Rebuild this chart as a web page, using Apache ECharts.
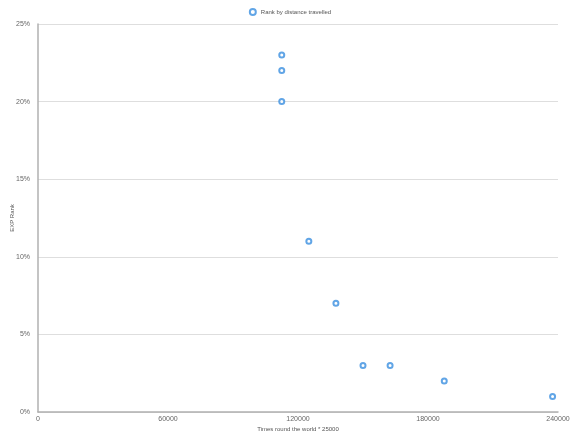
<!DOCTYPE html>
<html>
<head>
<meta charset="utf-8">
<script src="https://cdn.jsdelivr.net/npm/echarts@6/dist/echarts.min.js"></script>
<style>html,body{margin:0;padding:0;background:#fff}#c{width:580px;height:435px}</style>
</head>
<body>
<div id="c"></div>
<script>
var seriesName = 'Rank by distance travelled';
var xValues = [112500, 112500, 112500, 125000, 137500, 150000, 162500, 187500, 237500];
var yValues = [23, 22, 20, 11, 7, 3, 3, 2, 1];
var xTicks = [0, 60000, 120000, 180000, 240000];
var yTicks = [0, 5, 10, 15, 20, 25];

var points = xValues.map(function (x, i) { return [x, yValues[i]]; });
var chart = echarts.init(document.getElementById('c'));
chart.setOption({
  animation: false,
  backgroundColor: '#fff',
  textStyle: { fontFamily: 'Liberation Sans, Arial, sans-serif' },
  legend: {
    top: 3, left: 'center',
    itemWidth: 6, itemHeight: 6, itemGap: 6,
    textStyle: { fontSize: 6, color: '#555' },
    data: [{ name: seriesName, icon: 'emptyCircle' }]
  },
  grid: { left: 38, right: 22, top: 24, bottom: 23, containLabel: false, outerBoundsMode: 'none' },
  xAxis: {
    type: 'value', min: xTicks[0], max: xTicks[xTicks.length - 1], interval: 60000,
    name: 'Times round the world * 25000', nameLocation: 'middle', nameGap: 14, nameMoveOverlap: false,
    nameTextStyle: { fontSize: 6, color: '#555' },
    axisLine: { show: true, lineStyle: { color: '#b0b0b0', width: 1.5 } },
    axisTick: { show: false },
    splitLine: { show: false },
    axisLabel: { fontSize: 7, color: '#666', margin: 4, formatter: function (v) { return String(v); } }
  },
  yAxis: {
    type: 'value', min: yTicks[0], max: yTicks[yTicks.length - 1], interval: 5,
    name: 'EXP Rank', nameLocation: 'middle', nameGap: 23, nameRotate: 90, nameMoveOverlap: false,
    nameTextStyle: { fontSize: 6, color: '#555' },
    axisLine: { show: true, lineStyle: { color: '#b0b0b0', width: 1.5 } },
    axisTick: { show: false },
    splitLine: { show: true, lineStyle: { color: '#dedede', width: 1 } },
    axisLabel: { fontSize: 7, color: '#666', margin: 8, formatter: '{value}%' }
  },
  series: [{
    name: seriesName,
    type: 'scatter',
    symbol: 'emptyCircle',
    symbolSize: 5,
    itemStyle: { color: '#3a8ee0', borderColor: '#3a8ee0', borderWidth: 1.5 },
    data: points
  }]
});
</script>
</body>
</html>
